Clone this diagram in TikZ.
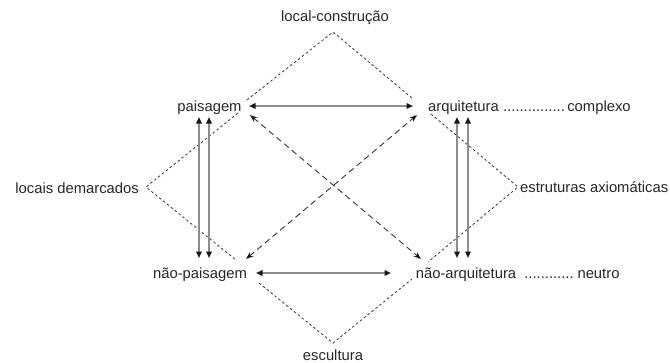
\documentclass[tikz,border=0pt]{standalone}
\usepackage{fontspec}
\setmainfont{Liberation Sans}
\usetikzlibrary{arrows.meta}
\begin{document}
\begin{tikzpicture}[x=1pt,y=-1pt,
  lbl/.style={inner sep=0pt,text=black!85,font=\fontsize{14.8}{16}\selectfont},
  diam/.style={draw=black!80,line width=0.8pt,dash pattern=on 2.5pt off 2.5pt},
  harrow/.style={draw=black!45,line width=1.6pt,{Triangle[black!90,length=6.5pt,width=5.5pt]}-{Triangle[black!90,length=6.5pt,width=5.5pt]}},
  darrow/.style={draw=black!80,line width=0.9pt,dash pattern=on 6pt off 4pt,{Stealth[black!90,length=7.5pt,width=5.5pt]}-{Stealth[black!90,length=7.5pt,width=5.5pt]}}]
\useasboundingbox (0,0) rectangle (670,362);
% labels
\node[lbl] (lc) at (335,18) {local-construção};
\node[lbl,anchor=base] (pa) at (209.5,111) {paisagem};
\node[lbl,anchor=base] (ar) at (463.5,111) {arquitetura};
\node[lbl,anchor=base] (ard) at (534,111) {...............};
\node[lbl,anchor=base] (cx) at (599,111) {complexo};
\node[lbl,anchor=base] (np) at (200,278) {não-paisagem};
\node[lbl,anchor=base] (na) at (466,278) {não-arquitetura};
\node[lbl,anchor=base] (nad) at (549,278) {............};
\node[lbl,anchor=base] (ne) at (598.5,278) {neutro};
\node[lbl,anchor=east] (ld) at (139,188) {locais demarcados};
\node[lbl,anchor=west] (ea) at (520,187) {estruturas axiomáticas};
\node[lbl] (es) at (333,355) {escultura};
% diamond corners
\coordinate (t1) at (247,100); \coordinate (tA) at (333,32); \coordinate (t2) at (412,98);
\coordinate (l1) at (238,113); \coordinate (lA) at (146,187); \coordinate (l2) at (236,260);
\coordinate (r1) at (431,114); \coordinate (rA) at (518,187); \coordinate (r2) at (428,262);
\coordinate (b1) at (259,283); \coordinate (bA) at (333,343); \coordinate (b2) at (412,279);
\draw[diam] (t1) -- (tA) -- (t2);
\draw[diam] (l1) -- (lA) -- (l2);
\draw[diam] (r1) -- (rA) -- (r2);
\draw[diam] (b1) -- (bA) -- (b2);
% horizontal arrows
\coordinate (h1a) at (249,106); \coordinate (h1b) at (413,106);
\coordinate (h2a) at (256,273); \coordinate (h2b) at (391,273);
\draw[harrow] (h1a) -- (h1b);
\draw[harrow] (h2a) -- (h2b);
% vertical arrows
\coordinate (v1a) at (199,117); \coordinate (v1b) at (199,258);
\coordinate (v2a) at (209,117); \coordinate (v2b) at (209,258);
\coordinate (v3a) at (457,117); \coordinate (v3b) at (457,258);
\coordinate (v4a) at (468,117); \coordinate (v4b) at (468,258);
\draw[harrow] (v1a) -- (v1b);
\draw[harrow] (v2a) -- (v2b);
\draw[harrow] (v3a) -- (v3b);
\draw[harrow] (v4a) -- (v4b);
% diagonal arrows
\coordinate (d1a) at (250,115); \coordinate (d1b) at (421,259);
\coordinate (d2a) at (246,259); \coordinate (d2b) at (417,115);
\draw[darrow] (d1a) -- (d1b);
\draw[darrow] (d2a) -- (d2b);
\end{tikzpicture}
\end{document}
